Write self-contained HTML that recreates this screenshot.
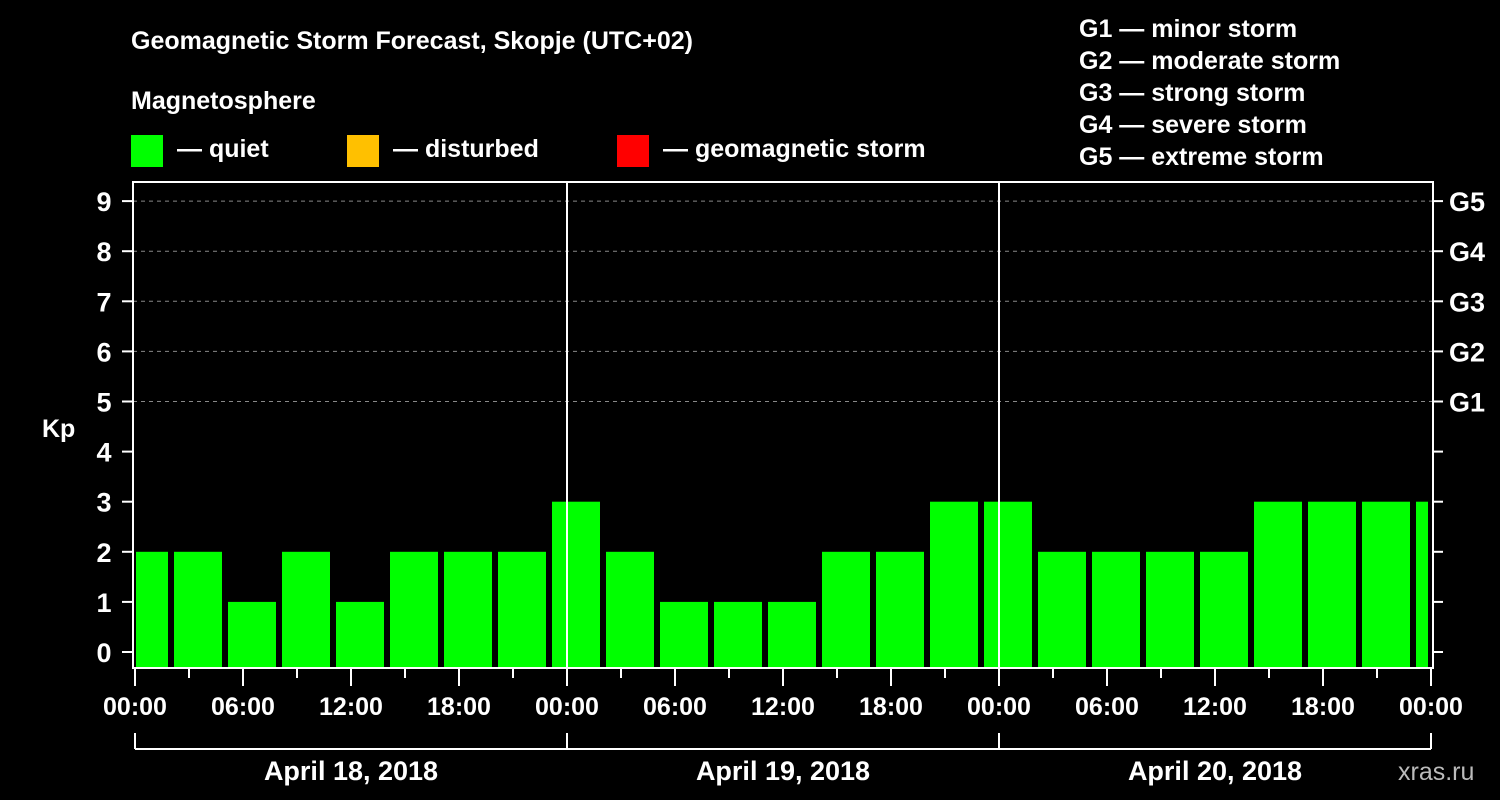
<!DOCTYPE html>
<html><head><meta charset="utf-8"><style>
html,body{margin:0;padding:0;background:#000;}
svg{display:block;font-family:"Liberation Sans",Arial,sans-serif;font-weight:bold;}
</style></head><body>
<svg id="chart" width="1500" height="800" viewBox="0 0 1500 800" xmlns="http://www.w3.org/2000/svg">
<rect width="1500" height="800" fill="#000"/>
<text x="131" y="49" fill="#fff" font-size="25">Geomagnetic Storm Forecast, Skopje (UTC+02)</text>
<text x="131" y="109" fill="#fff" font-size="25">Magnetosphere</text>
<g><rect x="131" y="135" width="32" height="32" fill="#00ff00"/><text x="177" y="157" fill="#fff" font-size="25">— quiet</text></g>
<g><rect x="347" y="135" width="32" height="32" fill="#ffc000"/><text x="393" y="157" fill="#fff" font-size="25">— disturbed</text></g>
<g><rect x="617" y="135" width="32" height="32" fill="#ff0000"/><text x="663" y="157" fill="#fff" font-size="25">— geomagnetic storm</text></g>
<g fill="#fff" font-size="25">
<text x="1079" y="37">G1 — minor storm</text>
<text x="1079" y="69">G2 — moderate storm</text>
<text x="1079" y="101">G3 — strong storm</text>
<text x="1079" y="133">G4 — severe storm</text>
<text x="1079" y="165">G5 — extreme storm</text>
</g>
<text x="42" y="437" fill="#fff" font-size="25">Kp</text>
<text x="1398" y="780" fill="#bbb" font-size="25" font-weight="normal">xras.ru</text>
<g id="grid"></g>
<g id="bars"></g>
<g id="axes"></g>
</svg>
<script>
const kpValues=[2,2,1,2,1,2,2,2,3,2,1,1,1,2,2,3,3,2,2,2,2,3,3,3,3];
const yTicks=[0,1,2,3,4,5,6,7,8,9];
const gLabels=["G1","G2","G3","G4","G5"];
const gLevels=[5,6,7,8,9];
const xTickLabels=["00:00","06:00","12:00","18:00","00:00","06:00","12:00","18:00","00:00","06:00","12:00","18:00","00:00"];
const dayLabels=["April 18, 2018","April 19, 2018","April 20, 2018"];

const NS="http://www.w3.org/2000/svg";
const L=133,R=1433,T=182,B=668;
const x0=135,pxPerHour=18;
function xs(h){return x0+h*pxPerHour;}
function ys(v){return 652-v*50.1;}
function mk(tag,attrs,parent){const e=document.createElementNS(NS,tag);for(const k in attrs)e.setAttribute(k,attrs[k]);parent.appendChild(e);return e;}
const grid=document.getElementById('grid'),bars=document.getElementById('bars'),axes=document.getElementById('axes');

gLevels.forEach((lv,i)=>{
  const ln=mk('line',{x1:L,x2:R,y1:ys(lv),y2:ys(lv),stroke:'#888','stroke-dasharray':'4,4','stroke-width':1},grid);
  
  
  const t=mk('text',{x:1449,y:ys(lv)+10,fill:'#fff','font-size':27},axes);
  t.textContent=gLabels[i];
  
  
});
// bars
kpValues.forEach((v,k)=>{
  let a=xs(3*k-0.5)-6+6, b=a+48;
  a=xs(3*k)-15; b=a+48;
  const left=Math.max(a,136),right=Math.min(b,1428);
  const r=mk('rect',{x:left,y:ys(v),width:right-left,height:667-ys(v),fill:v>=5?'#ff0000':(v>=4?'#ffc000':'#00ff00')},bars);
  
  
});
// day separators
[1,2].forEach(d=>{
  const ln=mk('line',{x1:xs(24*d),x2:xs(24*d),y1:T,y2:B,stroke:'#fff','stroke-width':2},axes);
  
  
});
const frame=mk('rect',{x:L,y:T,width:R-L,height:B-T,fill:'none',stroke:'#fff','stroke-width':2},axes);


yTicks.forEach(v=>{
  mk('line',{x1:122,x2:L,y1:ys(v),y2:ys(v),stroke:'#fff','stroke-width':2},axes);
  mk('line',{x1:R,x2:1443,y1:ys(v),y2:ys(v),stroke:'#fff','stroke-width':2},axes);
  const t=mk('text',{x:104,y:ys(v)+10,fill:'#fff','font-size':27,'text-anchor':'middle'},axes);
  t.textContent=v;
  
  
});
for(let h=0;h<=72;h+=3){
  const major=h%6===0;
  mk('line',{x1:xs(h),x2:xs(h),y1:B,y2:major?686:678,stroke:'#fff','stroke-width':2},axes);
}
xTickLabels.forEach((s,i)=>{
  const t=mk('text',{x:xs(6*i),y:715,fill:'#fff','font-size':25,'text-anchor':'middle'},axes);
  t.textContent=s;
  
  
});
mk('line',{x1:xs(0),x2:xs(72),y1:749,y2:749,stroke:'#fff','stroke-width':2},axes);
for(let d=0;d<=3;d++) mk('line',{x1:xs(24*d),x2:xs(24*d),y1:733,y2:749,stroke:'#fff','stroke-width':2},axes);
dayLabels.forEach((s,i)=>{
  const t=mk('text',{x:xs(24*i+12),y:780,fill:'#fff','font-size':27,'text-anchor':'middle'},axes);
  t.textContent=s;
  
  
});
</script>
</body></html>
